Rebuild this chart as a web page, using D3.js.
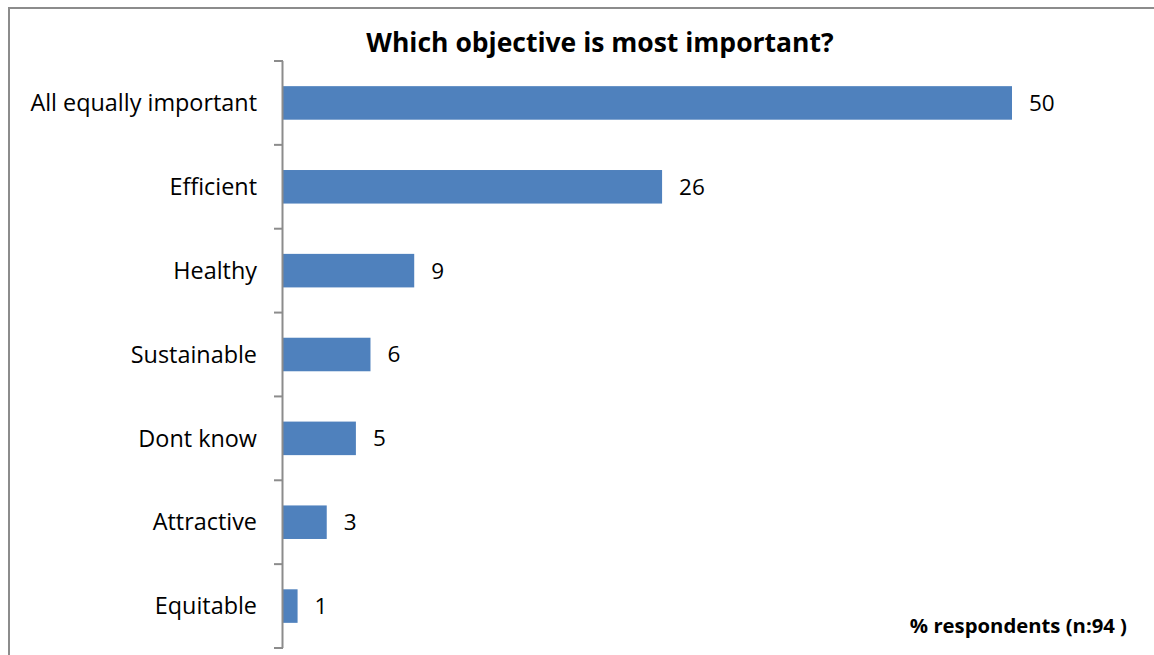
<!DOCTYPE html>
<html>
<head>
<meta charset="utf-8">
<script src="https://cdn.jsdelivr.net/npm/d3@7"></script>
<style>
  html, body { margin: 0; padding: 0; background: #fff; }
  svg { display: block; }
  text { font-family: "Open Sans", sans-serif; fill: #000; }
</style>
</head>
<body>
<svg id="chart" width="1154" height="655"></svg>
<script>
// Survey answers, top to bottom
const categories = ["All equally important", "Efficient", "Healthy", "Sustainable", "Dont know", "Attractive", "Equitable"];
const values = [50, 26, 9, 6, 5, 3, 1];
const titleText = "Which objective is most important?";
const noteText = "% respondents (n:94 )";

const svg = d3.select("#chart");

// Chart area frame (runs off the right and bottom edges)
svg.append("rect")
  .attr("x", 9).attr("y", 8)
  .attr("width", 1200).attr("height", 700)
  .attr("fill", "#fff")
  .attr("stroke", "#8c8c8c")
  .attr("stroke-width", 2);

const plot = { left: 283, top: 61, bottom: 648 };

const y = d3.scaleBand()
  .domain(categories)
  .range([plot.top, plot.bottom])
  .padding(0);

const x = d3.scaleLinear()
  .domain([0, 50])
  .range([plot.left, 1012]);

// Bars take 40% of each band, centred
const barH = y.bandwidth() * 0.4;

svg.append("g")
  .selectAll("rect")
  .data(categories)
  .join("rect")
  .attr("x", x(0))
  .attr("y", d => y(d) + (y.bandwidth() - barH) / 2)
  .attr("width", (d, i) => x(values[i]) - x(0))
  .attr("height", barH)
  .attr("fill", "#4f81bd");

// Value labels
svg.append("g")
  .selectAll("text")
  .data(categories)
  .join("text")
  .attr("x", (d, i) => x(values[i]) + 17)
  .attr("y", d => y(d) + y.bandwidth() / 2)
  .attr("dy", "0.35em")
  .style("font-size", "22.5px")
  .text((d, i) => values[i]);

// Category axis: vertical line with ticks on band boundaries
const axis = svg.append("g");
axis.append("line")
  .attr("x1", plot.left - 0.5).attr("x2", plot.left - 0.5)
  .attr("y1", plot.top).attr("y2", plot.bottom)
  .attr("stroke", "#8c8c8c").attr("stroke-width", 2);

const boundaries = categories.map(c => y(c)).concat([plot.bottom]);
axis.selectAll("line.tick")
  .data(boundaries)
  .join("line")
  .attr("class", "tick")
  .attr("x1", plot.left - 9).attr("x2", plot.left)
  .attr("y1", d => d).attr("y2", d => d)
  .attr("stroke", "#8c8c8c").attr("stroke-width", 2);

axis.selectAll("text")
  .data(categories)
  .join("text")
  .attr("x", 257)
  .attr("y", d => y(d) + y.bandwidth() / 2)
  .attr("dy", "0.35em")
  .attr("text-anchor", "end")
  .style("font-size", "23.4px")
  .text(d => d);

// Title
svg.append("text")
  .attr("x", 600).attr("y", 52)
  .attr("text-anchor", "middle")
  .style("font-size", "26.5px")
  .style("font-weight", "bold")
  .text(titleText);

// Base note
svg.append("text")
  .attr("x", 1127).attr("y", 633)
  .attr("text-anchor", "end")
  .style("font-size", "20.3px")
  .style("font-weight", "bold")
  .text(noteText);
</script>
</body>
</html>
